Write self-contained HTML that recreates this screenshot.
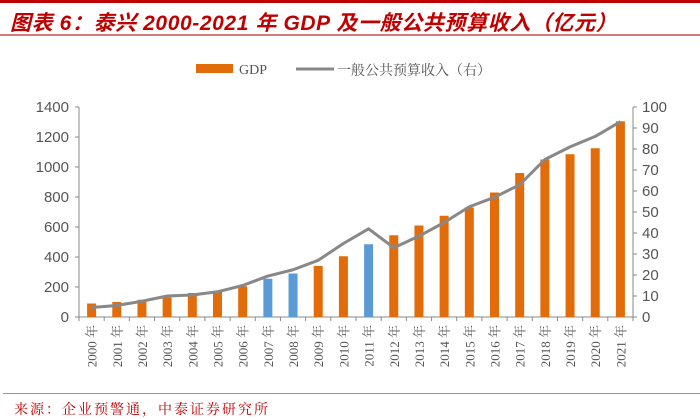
<!DOCTYPE html>
<html><head><meta charset="utf-8"><style>
body{margin:0;background:#fff;width:700px;height:419px;overflow:hidden;position:relative;font-family:"Liberation Sans","Noto Sans CJK SC",sans-serif}
</style></head><body>
<div style="position:absolute;left:0;top:0;width:700px;height:3px;background:#c00000"></div>
<div style="position:absolute;left:10px;top:7px;font-size:21px;letter-spacing:0.6px;font-weight:bold;font-style:italic;color:#c00000;white-space:nowrap">图表 6：泰兴 2000-2021 年 GDP 及一般公共预算收入（亿元）</div>
<div style="position:absolute;left:0;top:34px;width:700px;height:2px;background:#d9777a"></div>
<svg id="c" width="700" height="419" style="position:absolute;left:0;top:0"></svg>
<div style="position:absolute;left:3px;top:393px;width:697px;height:1px;background:#d9777a"></div>
<div style="position:absolute;left:14px;top:399px;font-size:14px;letter-spacing:2px;color:#c00000;font-family:'Liberation Serif','Noto Serif CJK SC',serif;white-space:nowrap">来源：企业预警通，中泰证券研究所</div>
<script>
const years=["2000 年","2001 年","2002 年","2003 年","2004 年","2005 年","2006 年","2007 年","2008 年","2009 年","2010 年","2011 年","2012 年","2013 年","2014 年","2015 年","2016 年","2017 年","2018 年","2019 年","2020 年","2021 年"];
const gdp=[90,100,115,130,160,170,205,255,290,340,405,485,545,610,675,730,830,960,1050,1085,1125,1305];
const revenue=[4.5,5.5,7.5,10,10.5,12,15,19.5,22.5,27,35,42,33,38.5,45,52.5,57,63,75,81,86,93];
const blueYears=["2007 年","2008 年","2011 年"];
const leftTicks=[0,200,400,600,800,1000,1200,1400];
const rightTicks=[0,10,20,30,40,50,60,70,80,90,100];
const svg=document.getElementById('c');const NS='http://www.w3.org/2000/svg';
const X0=79,X1=633,Y0=317,Y1=107;
const band=(X1-X0)/years.length;
const xc=i=>X0+band*(i+0.5);
const yL=v=>Y0-(v/1400)*(Y0-Y1);
const yR=v=>Y0-(v/100)*(Y0-Y1);
function mk(t,a,txt){const e=document.createElementNS(NS,t);for(const k in a)e.setAttribute(k,a[k]);if(txt!==undefined)e.textContent=txt;svg.appendChild(e);return e;}
let e=mk('line',{x1:X0,y1:Y1,x2:X0,y2:Y0,stroke:'#888','stroke-width':1});

e=mk('line',{x1:X1,y1:Y1,x2:X1,y2:Y0,stroke:'#888','stroke-width':1});

e=mk('line',{x1:X0,y1:Y0,x2:X1,y2:Y0,stroke:'#888','stroke-width':1});

leftTicks.forEach(v=>{const y=yL(v);mk('line',{x1:X0-4,y1:y,x2:X0,y2:y,stroke:'#888'});
const t=mk('text',{x:X0-10,y:y+5,'text-anchor':'end','font-size':15,fill:'#555'},v);
});
rightTicks.forEach(v=>{const y=yR(v);mk('line',{x1:X1,y1:y,x2:X1+4,y2:y,stroke:'#888'});
const t=mk('text',{x:X1+9,y:y+5,'text-anchor':'start','font-size':15,fill:'#555'},v);
});
for(let i=0;i<=years.length;i++){const x=X0+band*i;mk('line',{x1:x,y1:Y0,x2:x,y2:Y0+4,stroke:'#888'});}
years.forEach((yr,i)=>{const x=xc(i);
const r=mk('rect',{x:x-4.5,y:yL(gdp[i]),width:9,height:Y0-yL(gdp[i]),fill:blueYears.includes(yr)?'#5b9bd5':'#e36c0a'});

const t=mk('text',{x:0,y:0,transform:`translate(${x+5},${Y0+8}) rotate(-90)`,'text-anchor':'end','font-size':13,fill:'#555','font-family':"'Liberation Serif','Noto Serif CJK SC',serif"},yr);
});
const pl=mk('polyline',{points:revenue.map((v,i)=>xc(i)+','+yR(v)).join(' '),fill:'none',stroke:'#888','stroke-width':3,'stroke-linejoin':'round'});

e=mk('rect',{x:196,y:64,width:37,height:9,fill:'#e36c0a'});

e=mk('text',{x:239,y:74,'font-size':14,fill:'#555','font-family':"'Liberation Serif',serif"},'GDP');

e=mk('line',{x1:296,y1:69,x2:334,y2:69,stroke:'#888','stroke-width':3});

e=mk('text',{x:337,y:75,'font-size':14,fill:'#555','font-family':"'Liberation Serif','Noto Serif CJK SC',serif"},'一般公共预算收入（右）');

</script>
</body></html>
